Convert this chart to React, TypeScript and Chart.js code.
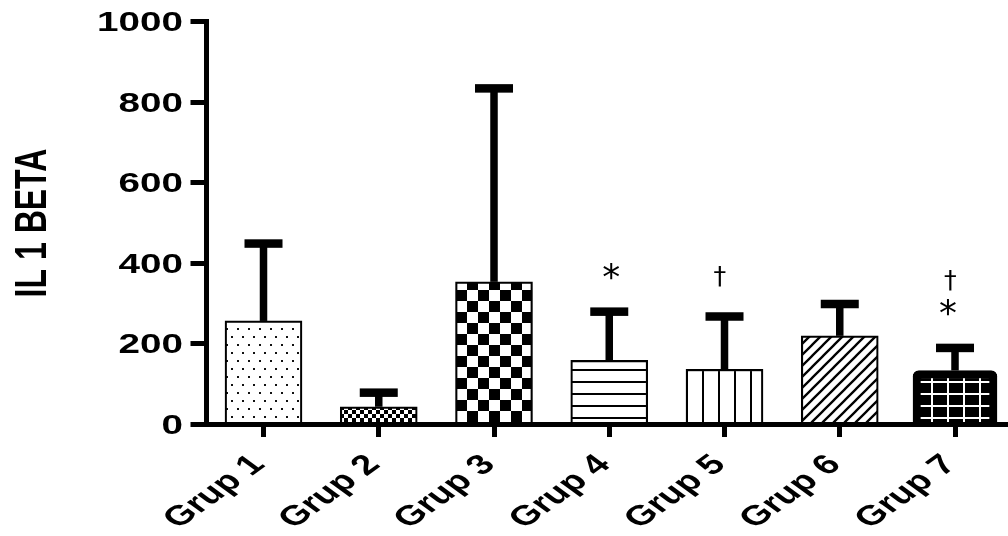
import { useEffect, useRef } from 'react';
import { Chart, registerables } from 'chart.js';

Chart.register(...registerables);

// ---- data ----
const categories = ['Grup 1', 'Grup 2', 'Grup 3', 'Grup 4', 'Grup 5', 'Grup 6', 'Grup 7'];
const means = [257, 44, 354, 159, 137, 220, 134];
const sdUpper = [192, 35, 480, 121, 131, 79, 56];
const yTickValues = [0, 200, 400, 600, 800, 1000];
const marks: string[][] = [[], [], [], ['*'], ['†'], [], ['*', '†']];
const yTitle = 'IL 1 BETA';

// ---- style ----
const K = 1.38; // horizontal stretch of the lettering
const FONT = '"Liberation Sans", Arial, sans-serif';

function tile(w: number, h: number, bg: string, draw: (g: CanvasRenderingContext2D) => void) {
  const c = document.createElement('canvas');
  c.width = w;
  c.height = h;
  const g = c.getContext('2d')!;
  g.fillStyle = bg;
  g.fillRect(0, 0, w, h);
  draw(g);
  return c;
}

function makePatterns(ctx: CanvasRenderingContext2D) {
  const dots = tile(11, 16, '#fff', (g) => {
    g.fillStyle = '#111';
    g.fillRect(1, 2, 2, 2);
    g.fillRect(6, 10, 2, 2);
  });
  const smallChecker = tile(8, 8, '#fff', (g) => {
    g.fillStyle = '#000';
    g.fillRect(0, 0, 4, 4);
    g.fillRect(4, 4, 4, 4);
  });
  const bigChecker = tile(22, 22, '#fff', (g) => {
    g.fillStyle = '#000';
    g.fillRect(0, 0, 11, 11);
    g.fillRect(11, 11, 11, 11);
  });
  const hLines = tile(4, 12, '#fff', (g) => {
    g.fillStyle = '#000';
    g.fillRect(0, 7, 4, 2);
  });
  const vLines = tile(16, 4, '#fff', (g) => {
    g.fillStyle = '#000';
    g.fillRect(0, 0, 2, 4);
  });
  const diag = tile(11, 11, '#fff', (g) => {
    g.strokeStyle = '#000';
    g.lineWidth = 2.3;
    g.beginPath();
    g.moveTo(-1, 12); g.lineTo(12, -1);
    g.moveTo(-12, 12); g.lineTo(1, -1);
    g.moveTo(10, 12); g.lineTo(23, -1);
    g.stroke();
  });
  const grid = tile(16, 12, '#000', (g) => {
    g.fillStyle = '#fff';
    g.fillRect(2, 0, 2, 12);
    g.fillRect(0, 7, 16, 2);
  });
  const p = (c: HTMLCanvasElement) => ctx.createPattern(c, 'repeat')!;
  return {
    main: [p(dots), p(smallChecker), p(bigChecker), p(hLines), p(vLines), p(diag)],
    last: p(grid),
  };
}

const alignPatterns = {
  id: 'alignPatterns',
  beforeDatasetsDraw(chart: any) {
    chart.data.datasets.forEach((_: any, di: number) => {
      const meta = chart.getDatasetMeta(di);
      meta.data.forEach((el: any) => {
        const bg = el.options && el.options.backgroundColor;
        if (bg && typeof bg.setTransform === 'function') {
          const m = new DOMMatrix();
          m.translateSelf(Math.round(el.x - el.width / 2), Math.round(el.base));
          bg.setTransform(m);
        }
      });
    });
  },
};

const errorBars = {
  id: 'errorBars',
  afterDatasetsDraw(chart: any) {
    const { ctx } = chart;
    const xs = chart.scales.x;
    const ys = chart.scales.y;
    ctx.save();
    ctx.fillStyle = '#000';
    means.forEach((m, i) => {
      const x = xs.getPixelForValue(i);
      const yBar = ys.getPixelForValue(m);
      const yTop = ys.getPixelForValue(m + sdUpper[i]);
      ctx.fillRect(x - 3.75, yTop, 7.5, yBar - yTop);
      ctx.fillRect(x - 19, yTop - 4.25, 38, 8.5);
    });
    ctx.restore();
  },
};

function glyph(ctx: CanvasRenderingContext2D, s: string, cx: number, cy: number, inkH: number) {
  ctx.font = `100px "DejaVu Sans", sans-serif`;
  const m0 = ctx.measureText(s);
  const h0 = m0.actualBoundingBoxAscent + m0.actualBoundingBoxDescent;
  const size = (100 * inkH) / h0;
  ctx.font = `${size}px "DejaVu Sans", sans-serif`;
  const m = ctx.measureText(s);
  const L = m.actualBoundingBoxLeft;
  const R = m.actualBoundingBoxRight;
  const A = m.actualBoundingBoxAscent;
  const D = m.actualBoundingBoxDescent;
  ctx.textAlign = 'left';
  ctx.textBaseline = 'alphabetic';
  ctx.fillText(s, cx - (R - L) / 2, cy + (A - D) / 2);
}

const textLayer = {
  id: 'textLayer',
  afterDraw(chart: any) {
    const { ctx, chartArea } = chart;
    const xs = chart.scales.x;
    const ys = chart.scales.y;
    ctx.save();
    ctx.fillStyle = '#000';

    // y tick labels
    ctx.font = `bold 28px ${FONT}`;
    const capH = ctx.measureText('0').actualBoundingBoxAscent;
    ctx.textAlign = 'right';
    ctx.textBaseline = 'alphabetic';
    ys.ticks.forEach((t: any) => {
      const py = ys.getPixelForValue(t.value);
      ctx.save();
      ctx.translate(ys.left - 7.5, py);
      ctx.scale(K, 1);
      ctx.fillText(String(t.value), 0, capH / 2);
      ctx.restore();
    });

    // x tick labels (rotated)
    xs.ticks.forEach((t: any, i: number) => {
      const px = xs.getPixelForValue(t.value);
      ctx.save();
      ctx.translate(px - 6.5, chartArea.bottom + 34.5);
      ctx.scale(K, 1);
      ctx.rotate(-Math.PI / 4);
      ctx.fillText(categories[i], 0, capH / 2);
      ctx.restore();
    });

    // y title
    ctx.font = `bold 32px ${FONT}`;
    const capT = ctx.measureText('B').actualBoundingBoxAscent;
    ctx.textAlign = 'center';
    ctx.save();
    ctx.translate(30.5, (chartArea.top + chartArea.bottom) / 2);
    ctx.scale(K, 1);
    ctx.rotate(-Math.PI / 2);
    ctx.fillText(yTitle, 0, capT / 2);
    ctx.restore();

    // significance marks
    marks.forEach((list, i) => {
      const x = xs.getPixelForValue(i);
      const yTop = ys.getPixelForValue(means[i] + sdUpper[i]);
      list.forEach((s, k) => {
        const cy = yTop - 40 - k * 27;
        if (s === '*') glyph(ctx, s, x - 7, cy, 16.5);
        else glyph(ctx, s, x - 5, cy, 21);
      });
    });
    ctx.restore();
  },
};

export default function App() {
  const ref = useRef<HTMLCanvasElement | null>(null);

  useEffect(() => {
    const canvas = ref.current!;
    const ctx = canvas.getContext('2d')!;
    const pats = makePatterns(ctx);
    const n = categories.length;

    const chart = new Chart(ctx, {
      type: 'bar',
      data: {
        datasets: [
          {
            data: means.slice(0, n - 1).map((v, i) => ({ x: i, y: v })),
            backgroundColor: pats.main,
            borderColor: '#000',
            borderWidth: 2.2,
            borderSkipped: 'start',
            barThickness: 77,
            grouped: false,
          } as any,
          {
            data: [{ x: n - 1, y: means[n - 1] }],
            backgroundColor: pats.last,
            borderColor: '#000',
            borderWidth: 8,
            borderRadius: 6,
            borderSkipped: 'start',
            barThickness: 84,
            grouped: false,
          } as any,
        ],
      },
      options: {
        responsive: false,
        devicePixelRatio: 1,
        animation: false,
        events: [],
        layout: { padding: { left: 190.5, top: 21.5, right: 0, bottom: 11.5 } },
        plugins: { legend: { display: false }, tooltip: { enabled: false } },
        scales: {
          x: {
            type: 'linear',
            min: -0.4946,
            max: 6.4598,
            offset: false,
            z: 1,
            afterBuildTicks: (axis: any) => {
              axis.ticks = categories.map((_, i) => ({ value: i }));
            },
            afterFit: (s: any) => {
              s.height = 100;
            },
            ticks: { display: false },
            grid: {
              offset: false,
              drawOnChartArea: false,
              drawTicks: true,
              tickLength: 12.5,
              lineWidth: 5,
              color: '#000',
            },
            border: { display: true, width: 5, color: '#000' },
          } as any,
          y: {
            type: 'linear',
            min: 0,
            max: 1000,
            z: 1,
            afterBuildTicks: (axis: any) => {
              axis.ticks = yTickValues.map((v) => ({ value: v }));
            },
            afterFit: (s: any) => {
              s.width = 16;
            },
            ticks: { display: false },
            grid: {
              drawOnChartArea: false,
              drawTicks: true,
              tickLength: 16,
              lineWidth: 5,
              color: '#000',
            },
            border: { display: true, width: 5, color: '#000' },
          } as any,
        },
      },
      plugins: [alignPatterns, errorBars, textLayer],
    });
    return () => chart.destroy();
  }, []);

  return (
    <div style={{ position: 'absolute', left: 0, top: 0, width: 1008, height: 536, background: '#fff' }}>
      <canvas ref={ref} width={1008} height={536} style={{ display: 'block' }} />
    </div>
  );
}
